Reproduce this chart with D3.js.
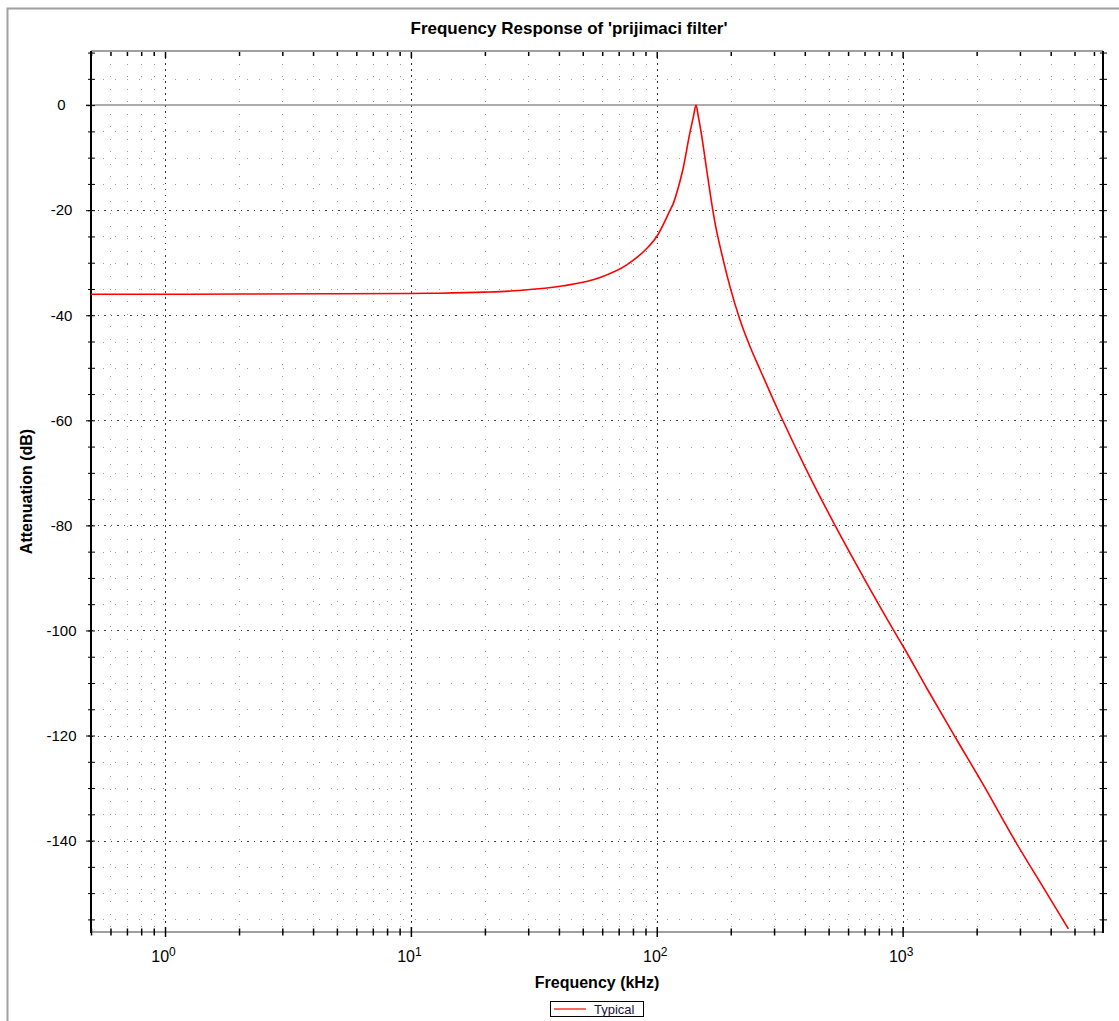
<!DOCTYPE html>
<html>
<head>
<meta charset="utf-8">
<script src="https://cdn.jsdelivr.net/npm/d3@7"></script>
<style>
body { margin: 0; background: #fff; }
svg text { font-family: "Liberation Sans", Arial, sans-serif; }
</style>
</head>
<body>
<div class="chart"></div>
<script>
// frequency (kHz) and attenuation (dB)
var freq = [0.5, 1, 2, 5, 10, 13.1, 20, 27.4, 41.7, 58.8, 75.5, 91, 100, 113.3, 116.8, 122.5, 127.5, 136.6, 140.9,
            144.5, 147.6, 151, 159.7, 167.3, 172.7, 183.8, 198.6, 218.1, 239.7, 263.3, 298, 317.3, 401, 531, 703,
            931, 1007, 1254, 1660, 2130, 2820, 3855, 4722]
var atten = [-36.0, -36.0, -35.95, -35.9, -35.85, -35.8, -35.6, -35.3, -34.4, -32.8, -30.4, -27.3, -25.0, -20.0, -18.7, -15.6, -12.4, -5.1, -2.2,
             0, -2.2, -4.75, -12.4, -18.7, -22.5, -28.3, -34.6, -40.9, -46.0, -50.4, -56.1, -58.9, -68.9, -80.0, -90.4,
             -100.4, -103.1, -111.0, -120.8, -129.4, -139.5, -150.0, -156.8]

var yMinorTicks = d3.range(-155, 11, 5)
var yLabels = [0, -20, -40, -60, -80, -100, -120, -140]
var xDecades = [1, 10, 100, 1000]

var title = "Frequency Response of 'prijimaci filter'"
var xTitle = "Frequency (kHz)"
var yTitle = "Attenuation (dB)"
var seriesName = "Typical"

var width = 1119
var height = 1021
var pL = 91, pR = 1103, pT = 51, pB = 932

var x = d3.scaleLog().domain([0.5, 6530]).range([pL, pR])
var y = d3.scaleLinear().domain([10.3, -157.4]).range([pT, pB])

var svg = d3.select(".chart")
    .append("svg")
    .attr("width", width)
    .attr("height", height)

// outer frame
svg.append("rect")
    .attr("x", 7.5).attr("y", 8.5)
    .attr("width", 1200).attr("height", 1100)
    .attr("fill", "none")
    .attr("stroke", "#a0a0a0")
    .attr("stroke-width", 2)

svg.append("text")
    .attr("x", 569).attr("y", 34)
    .attr("text-anchor", "middle")
    .style("font-size", "17px")
    .style("font-weight", "bold")
    .text(title)

var xTicks = x.ticks()
var isDecade = d => xDecades.indexOf(d) >= 0

// grid
var grid = svg.append("g").attr("shape-rendering", "crispEdges")

grid.selectAll(".hgrid")
    .data(yMinorTicks.filter(d => d != 0 && d < 10))
    .enter()
    .append("line")
    .attr("x1", pL).attr("x2", pR)
    .attr("y1", d => Math.round(y(d)) + 0.5)
    .attr("y2", d => Math.round(y(d)) + 0.5)
    .attr("stroke", d => d % 20 == 0 ? "#444" : "#9a9a9a")
    .attr("stroke-dasharray", d => d % 20 == 0 ? "1.5,5" : "1,11")

grid.selectAll(".vgrid")
    .data(xTicks.filter(d => d > 0.5))
    .enter()
    .append("line")
    .attr("y1", pT).attr("y2", pB)
    .attr("x1", d => Math.round(x(d)) + 0.5)
    .attr("x2", d => Math.round(x(d)) + 0.5)
    .attr("stroke", d => isDecade(d) ? "#333" : "#9a9a9a")
    .attr("stroke-dasharray", d => isDecade(d) ? "1.5,4.5" : "1,11.5")

// 0 dB reference line
svg.append("line")
    .attr("x1", pL - 5).attr("x2", pR)
    .attr("y1", y(0)).attr("y2", y(0))
    .attr("stroke", "#909090")
    .attr("stroke-width", 1.5)

// frame lines of the plot
svg.append("line")
    .attr("x1", pL).attr("x2", pR).attr("y1", pT).attr("y2", pT)
    .attr("stroke", "#a0a0a0").attr("stroke-width", 2)
svg.append("line")
    .attr("x1", pL).attr("x2", pR).attr("y1", pB).attr("y2", pB)
    .attr("stroke", "#a0a0a0").attr("stroke-width", 2)

// x tick marks, bottom and top
function xTickAxis(vals, size, ypos) {
    var g = svg.append("g")
        .attr("transform", "translate(0," + ypos + ")")
        .call(d3.axisBottom(x).tickValues(vals).tickSize(size).tickFormat(""))
    g.select(".domain").remove()
    g.selectAll("line").attr("stroke", "#000").attr("stroke-width", 1.5)
    return g
}
xTickAxis(xTicks.filter(d => !isDecade(d)), 7, pB - 3.5)
xTickAxis(xDecades, 10, pB - 5)
xTickAxis(xTicks.filter(d => !isDecade(d)), 4, pT + 1)
xTickAxis(xDecades, 6, pT + 1)

// x labels as powers of ten
var xLab = svg.append("g")
    .attr("transform", "translate(-2," + pB + ")")
    .call(d3.axisBottom(x).tickValues(xDecades).tickSize(0).tickPadding(19).tickFormat(""))
xLab.select(".domain").remove()
xLab.selectAll(".tick text")
    .style("font-size", "16px")
    .attr("fill", "#000")
    .each(function(d) {
        var t = d3.select(this)
        t.append("tspan").text("10")
        t.append("tspan").attr("dy", "-0.5em").style("font-size", "12px").text(Math.round(Math.log10(d)))
    })

// y tick marks, left and right
function yTickAxis(xpos, size, vals) {
    var g = svg.append("g")
        .attr("transform", "translate(" + xpos + ",0)")
        .call(d3.axisRight(y).tickValues(vals).tickSize(size).tickFormat(""))
    g.select(".domain").remove()
    g.selectAll("line").attr("stroke", "#000").attr("stroke-width", 1)
}
yTickAxis(pL - 3, 7, yMinorTicks)
yTickAxis(pL - 5, 5, yLabels)
yTickAxis(pR - 3, 7, yMinorTicks)

svg.append("line")
    .attr("x1", pL).attr("x2", pL).attr("y1", pT).attr("y2", pB + 1)
    .attr("stroke", "#000").attr("stroke-width", 2)
svg.append("line")
    .attr("x1", pR).attr("x2", pR).attr("y1", pT).attr("y2", pB + 1)
    .attr("stroke", "#000").attr("stroke-width", 2)

var yLab = svg.append("g")
    .attr("transform", "translate(" + pL + ",0)")
    .call(d3.axisLeft(y).tickValues(yLabels).tickSize(0).tickFormat(d => d))
yLab.select(".domain").remove()
yLab.selectAll("text")
    .attr("x", -29.5)
    .attr("text-anchor", "middle")
    .attr("fill", "#000")
    .style("font-size", "15px")

// axis titles
svg.append("text")
    .attr("x", 597).attr("y", 988)
    .attr("text-anchor", "middle")
    .style("font-size", "16px")
    .style("font-weight", "bold")
    .text(xTitle)

svg.append("text")
    .attr("transform", "translate(32," + (pT + pB) / 2 + ") rotate(-90)")
    .attr("text-anchor", "middle")
    .style("font-size", "16px")
    .style("font-weight", "bold")
    .text(yTitle)

// response curve
svg.append("clipPath").attr("id", "plotclip")
    .append("rect")
    .attr("x", pL).attr("y", pT)
    .attr("width", pR - pL).attr("height", pB - pT)

var line = d3.line()
    .x(d => x(d[0]))
    .y(d => y(d[1]))
    .curve(d3.curveMonotoneX)

svg.append("path")
    .datum(d3.zip(freq, atten))
    .attr("clip-path", "url(#plotclip)")
    .attr("fill", "none")
    .attr("stroke", "#ff0000")
    .attr("stroke-width", 1.6)
    .attr("d", line)

// legend
var legend = svg.append("g")
legend.append("rect")
    .attr("x", 550.5).attr("y", 1001.5)
    .attr("width", 93).attr("height", 15)
    .attr("fill", "#fff")
    .attr("stroke", "#000")
legend.append("line")
    .attr("x1", 554).attr("x2", 586)
    .attr("y1", 1009).attr("y2", 1009)
    .attr("stroke", "#ff0000")
    .attr("stroke-width", 1.2)
legend.append("text")
    .attr("x", 594).attr("y", 1014)
    .style("font-size", "13px")
    .attr("fill", "#1a1040")
    .text(seriesName)
</script>
</body>
</html>
